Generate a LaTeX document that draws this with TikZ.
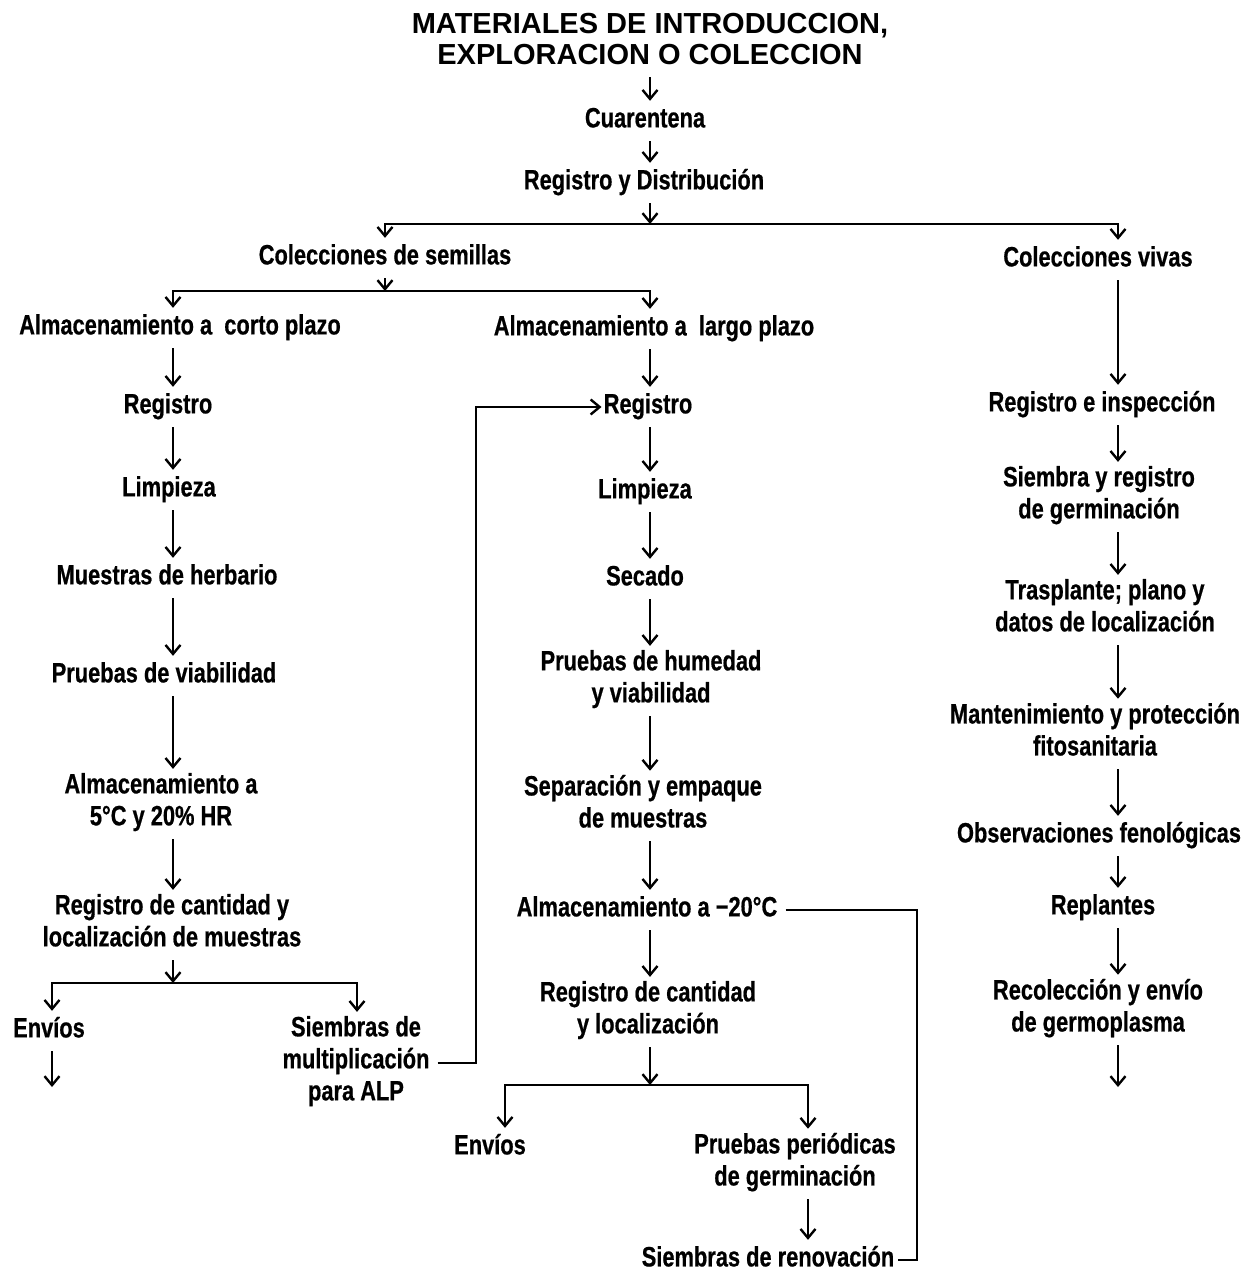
\documentclass[tikz,border=0pt]{standalone}
\usepackage{fontspec}
\usetikzlibrary{arrows.meta}
\newfontfamily\bodyfont[FakeStretch=0.78,FakeBold=0.6]{Liberation Sans}
\newfontfamily\titlefont{Liberation Sans}
\tikzset{
  lbl/.style={font=\bodyfont\bfseries\fontsize{28}{32}\selectfont, align=center,
    inner xsep=2pt, inner ysep=4pt, execute at begin node=\strut, execute at end node=\strut},
  ttl/.style={font=\titlefont\bfseries\fontsize{29}{31}\selectfont, align=center,
    inner xsep=2pt, inner ysep=3pt, execute at begin node=\strut, execute at end node=\strut},
  arr/.style={line width=2.2pt, -{Straight Barb[length=9pt,width=15pt,line width=2.4pt]}},
  ln/.style={line width=2.2pt}
}
\begin{document}
\begin{tikzpicture}[x=1pt,y=-1pt]
\useasboundingbox (0,0) rectangle (1249,1270);
% column coordinates
\coordinate (cL) at (173,0);
\coordinate (cM) at (650,0);
\coordinate (cR) at (1118,0);
\coordinate (cME) at (505,0);
\coordinate (cMP) at (808,0);
\coordinate (cLE) at (52,0);
\coordinate (cLS) at (357,0);
\coordinate (cFB) at (476,0);
\coordinate (cLoop) at (917,0);
% nodes
\node[ttl] (n0) at (650,44) {MATERIALES DE INTRODUCCION,\\EXPLORACION O COLECCION};
\node[lbl] (n1) at (645,121) {Cuarentena};
\node[lbl] (n2) at (644,183) {Registro y Distribución};
\node[lbl] (cs) at (385,258) {Colecciones de semillas};
\node[lbl] (cv) at (1098,260) {Colecciones vivas};
\node[lbl] (acp) at (180,328) {Almacenamiento a \ corto plazo};
\node[lbl] (alp) at (654,329) {Almacenamiento a \ largo plazo};
% left column
\node[lbl] (L1) at (168,407) {Registro};
\node[lbl] (L2) at (169,490) {Limpieza};
\node[lbl] (L3) at (167,578) {Muestras de herbario};
\node[lbl] (L4) at (164,676) {Pruebas de viabilidad};
\node[lbl] (L5) at (161,804) {Almacenamiento a\\5°C y 20\% HR};
\node[lbl] (L6) at (172,925) {Registro de cantidad y\\localización de muestras};
\node[lbl] (Lenv) at (49,1031) {Envíos};
\node[lbl] (Lsie) at (356,1063) {Siembras de\\multiplicación\\para ALP};
% middle column
\node[lbl] (M1) at (648,407) {Registro};
\node[lbl] (M2) at (645,492) {Limpieza};
\node[lbl] (M3) at (645,579) {Secado};
\node[lbl] (M4) at (651,681) {Pruebas de humedad\\y viabilidad};
\node[lbl] (M5) at (643,806) {Separación y empaque\\de muestras};
\node[lbl] (M6) at (647,910) {Almacenamiento a −20°C};
\node[lbl] (M7) at (648,1012) {Registro de cantidad\\y localización};
\node[lbl] (Menv) at (490,1148) {Envíos};
\node[lbl] (Mpru) at (795,1164) {Pruebas periódicas\\de germinación};
\node[lbl] (Mren) at (768,1260) {Siembras de renovación};
% right column
\node[lbl] (R1) at (1102,405) {Registro e inspección};
\node[lbl] (R2) at (1099,497) {Siembra y registro\\de germinación};
\node[lbl] (R3) at (1105,610) {Trasplante; plano y\\datos de localización};
\node[lbl] (R4) at (1095,734) {Mantenimiento y protección\\fitosanitaria};
\node[lbl] (R5) at (1099,836) {Observaciones fenológicas};
\node[lbl] (R6) at (1103,908) {Replantes};
\node[lbl] (R7) at (1098,1010) {Recolección y envío\\de germoplasma};
% junction / free-end coordinates
\coordinate (h1) at (650,224);
\coordinate (h2) at (385,291);
\coordinate (h3) at (173,983);
\coordinate (h4) at (650,1085);
\coordinate (e1) at (52,1087);
\coordinate (e2) at (1118,1087);
% top
\draw[arr] (n0.south -| cM) -- (n1.north -| cM);
\draw[arr] (n1.south -| cM) -- (n2.north -| cM);
\draw[arr] (n2.south -| cM) -- (h1);
\draw[arr] (h1) -| (cs.north);
\draw[arr] (h1) -| (cv.north -| cR);
\draw[arr] (cs.south) -- (h2);
\draw[arr] (h2) -| (acp.north -| cL);
\draw[arr] (h2) -| (alp.north -| cM);
% left chain
\draw[arr] (acp.south -| cL) -- (L1.north -| cL);
\draw[arr] (L1.south -| cL) -- (L2.north -| cL);
\draw[arr] (L2.south -| cL) -- (L3.north -| cL);
\draw[arr] (L3.south -| cL) -- (L4.north -| cL);
\draw[arr] (L4.south -| cL) -- (L5.north -| cL);
\draw[arr] (L5.south -| cL) -- (L6.north -| cL);
\draw[arr] (L6.south -| cL) -- (h3);
\draw[arr] (h3) -| (Lenv.north -| cLE);
\draw[arr] (h3) -| (Lsie.north -| cLS);
\draw[arr] (Lenv.south -| cLE) -- (e1);
\draw[arr] ([xshift=6pt]Lsie.east) -| (cFB |- M1.west) -- (M1.west);
% middle chain
\draw[arr] (alp.south -| cM) -- (M1.north -| cM);
\draw[arr] (M1.south -| cM) -- (M2.north -| cM);
\draw[arr] (M2.south -| cM) -- (M3.north -| cM);
\draw[arr] (M3.south -| cM) -- (M4.north -| cM);
\draw[arr] (M4.south -| cM) -- (M5.north -| cM);
\draw[arr] (M5.south -| cM) -- (M6.north -| cM);
\draw[arr] (M6.south -| cM) -- (M7.north -| cM);
\draw[arr] (M7.south -| cM) -- (h4);
\draw[arr] (h4) -| (Menv.north -| cME);
\draw[arr] (h4) -| (Mpru.north -| cMP);
\draw[arr] (Mpru.south -| cMP) -- (Mren.north -| cMP);
\draw[ln] ([xshift=6pt]M6.east) -| (cLoop |- Mren.east) -- ([xshift=2pt]Mren.east);
% right chain
\draw[arr] (cv.south -| cR) -- (R1.north -| cR);
\draw[arr] (R1.south -| cR) -- (R2.north -| cR);
\draw[arr] (R2.south -| cR) -- (R3.north -| cR);
\draw[arr] (R3.south -| cR) -- (R4.north -| cR);
\draw[arr] (R4.south -| cR) -- (R5.north -| cR);
\draw[arr] (R5.south -| cR) -- (R6.north -| cR);
\draw[arr] (R6.south -| cR) -- (R7.north -| cR);
\draw[arr] (R7.south -| cR) -- (e2);
\end{tikzpicture}
\end{document}
